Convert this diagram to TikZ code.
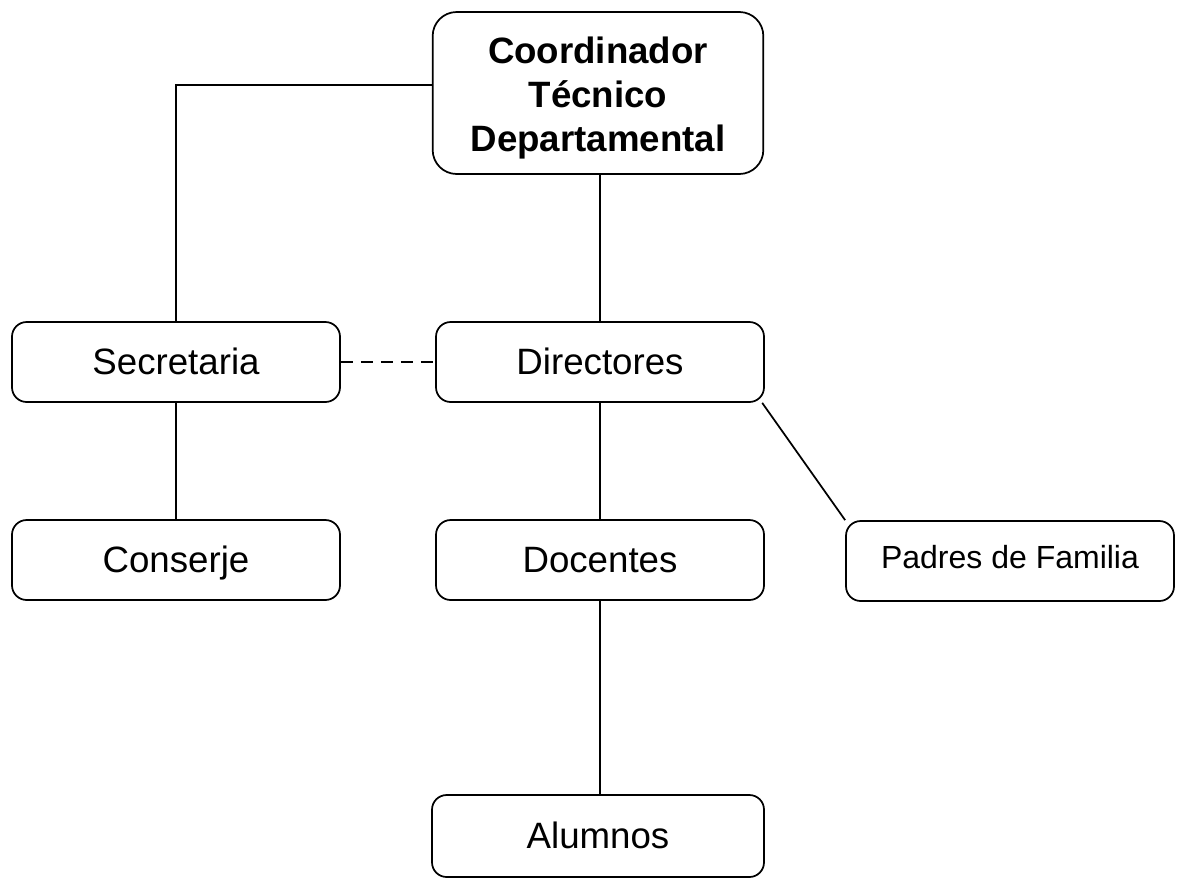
\documentclass[tikz,border=0pt]{standalone}
\usepackage{fontspec}
\setmainfont{Liberation Sans}
\usepackage{tikz}

\begin{document}
\begin{tikzpicture}[x=0.75pt,y=-0.75pt,line width=1.3pt,
    caja/.style={draw,rounded corners=11pt,minimum width=246pt,minimum height=60pt,
      inner sep=0pt,align=center,font=\fontsize{27.5}{33}\selectfont},
    cargo/.style={caja,text height=24.5pt,text depth=6pt}]
    \useasboundingbox (0,0) rectangle (1177,879);
    \node[caja,minimum width=248pt,minimum height=121.5pt,rounded corners=18pt,font=\fontsize{27.5}{33}\selectfont\bfseries] (coord) at (598,93) {\raisebox{0pt}[\dimexpr\height+9pt\relax][\depth]{\begin{tabular}{@{}c@{}}Coordinador\\Técnico\\Departamental\end{tabular}}};
    \node[cargo] (secr) at (176,362) {Secretaria};
    \node[cargo] (dir) at (600,362) {Directores};
    \node[cargo] (cons) at (176,560) {Conserje};
    \node[cargo] (doc) at (600,560) {Docentes};
    \node[cargo,text height=17pt,font=\fontsize{24}{29}\selectfont] (padres) at (1010,561) {Padres de Familia};
    \node[cargo,minimum width=249pt,minimum height=61.5pt] (alum) at (598,836) {Alumnos};
    \draw ([yshift=6pt]coord.west) -| (secr.north);
    \draw (dir.north|-coord.south) -- (dir.north);
    \draw[dash pattern=on 9pt off 6pt] (secr.east) -- (dir.west);
    \draw (secr.south) -- (cons.north);
    \draw (dir.south) -- (doc.north);
    \draw ([xshift=-2pt]dir.south east) -- (padres.north west);
    \draw (doc.south) -- (doc.south|-alum.north);
\end{tikzpicture}
\end{document}
